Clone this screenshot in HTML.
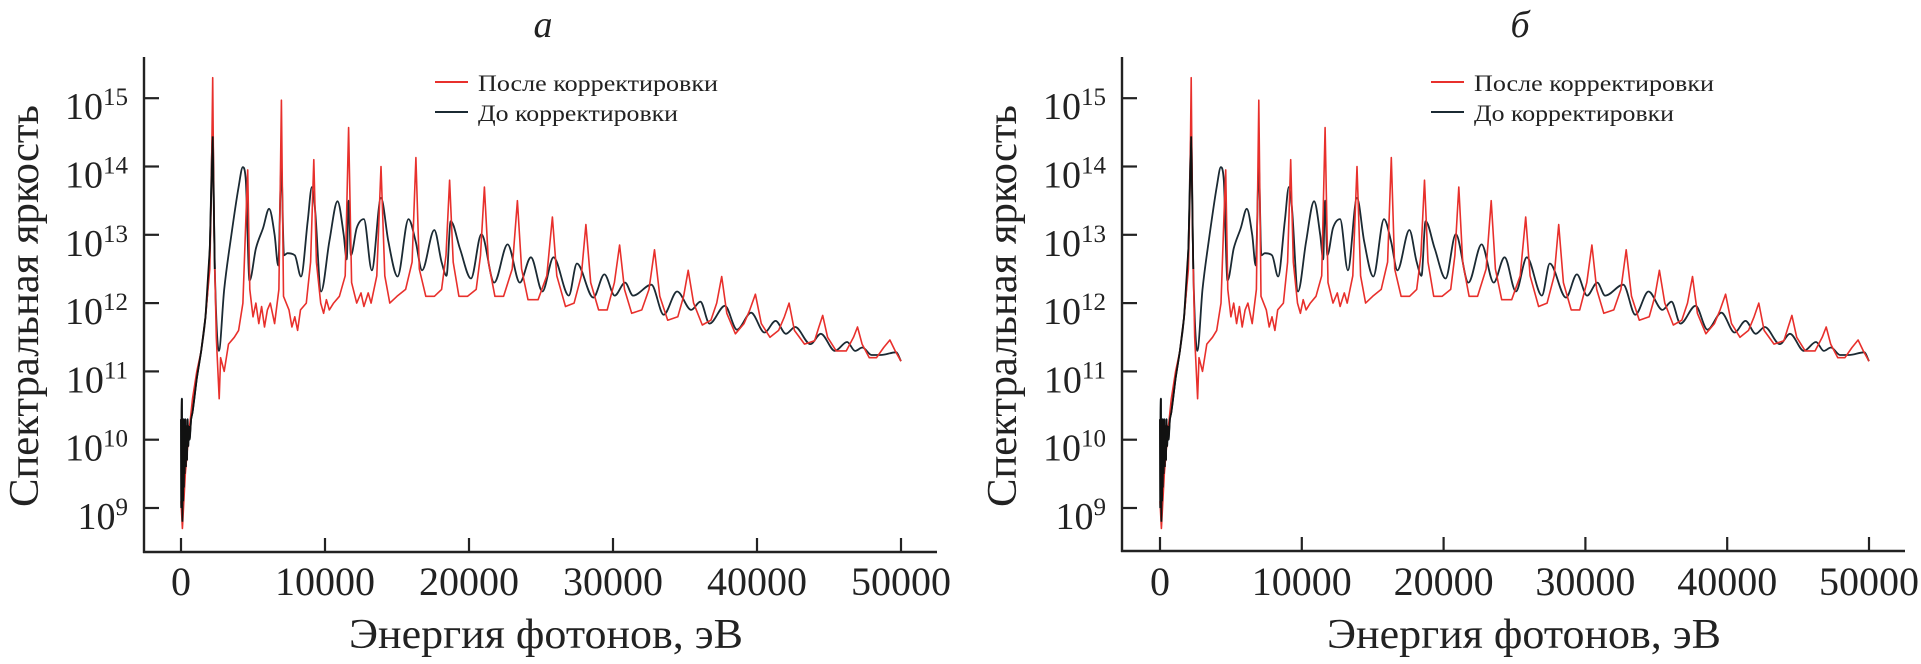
<!DOCTYPE html>
<html><head><meta charset="utf-8"><style>
html,body{margin:0;padding:0;background:#fff;}
svg{display:block;font-family:"Liberation Serif","DejaVu Serif",serif;}
</style></head><body>
<svg id="chart" width="1921" height="664" viewBox="0 0 1921 664" xmlns="http://www.w3.org/2000/svg"></svg>
<script>
// ---- data (log10 of spectral brightness vs photon energy, eV) ----
const redE = [0,100,300,500,800,1100,1400,1700,2000,2100,2200,2300,2450,2650,2750,3000,3300,3700,4000,4300,4500,4630,4780,5000,5200,5400,5600,5800,6000,6200,6500,6800,6970,7120,7500,7700,7900,8100,8300,8700,9000,9220,9400,9700,9900,10100,10300,10600,11000,11400,11640,11850,12200,12500,12700,13000,13200,13600,13890,14150,14500,15000,15600,16050,16310,16550,17000,17600,18100,18400,18650,18900,19300,19900,20500,20800,21070,21350,21800,22400,23000,23360,23650,24100,24800,25400,25790,26100,26700,27300,27800,28120,28450,29000,29600,30100,30460,30800,31300,32000,32500,32880,33250,33800,34500,34900,35220,35600,36200,36800,37200,37550,37900,38500,39100,39500,39890,40300,40900,41500,41900,42230,42600,43300,44000,44300,44560,44900,45500,46200,46700,46980,47300,47800,48300,48800,49230,49600,50000];
const redV = [9.1,8.7,9.5,10.0,10.6,11.0,11.3,11.8,12.5,13.5,15.3,13.0,11.5,10.6,11.2,11.0,11.4,11.5,11.6,12.0,13.2,13.95,12.2,11.8,12.0,11.7,11.95,11.65,11.9,12.0,11.7,12.2,14.97,12.1,11.9,11.65,11.8,11.6,11.9,12.0,12.6,14.1,12.6,12.0,11.85,12.05,11.9,12.0,12.1,12.4,14.57,12.3,12.0,12.15,11.95,12.15,12.0,12.4,14.0,12.4,12.0,12.1,12.2,12.6,14.13,12.5,12.1,12.1,12.2,12.7,13.8,12.6,12.1,12.1,12.2,12.7,13.7,12.6,12.1,12.1,12.5,13.5,12.5,12.05,12.05,12.4,13.26,12.4,11.95,12.0,12.4,13.15,12.3,11.9,11.9,12.3,12.85,12.2,11.85,11.9,12.2,12.78,12.1,11.75,11.8,12.1,12.48,12.0,11.68,11.75,12.0,12.39,11.85,11.55,11.7,11.9,12.13,11.7,11.5,11.6,11.8,12.0,11.6,11.4,11.45,11.65,11.82,11.5,11.3,11.3,11.5,11.65,11.4,11.2,11.2,11.35,11.46,11.3,11.15];
const blackE = [0,20,40,60,80,100,130,150,180,200,230,260,300,340,380,420,460,500,550,600,700,800,1100,1400,1700,2000,2200,2350,2630,3000,3500,4000,4290,4500,4760,5200,5700,6120,6500,6750,6970,7150,7390,7900,8330,8800,9090,9300,9730,10300,10870,11300,11510,11640,11800,12200,12700,13250,13890,14400,15040,15800,16300,16740,17590,18100,18440,18730,19370,20140,20860,21750,22680,23530,24300,25100,25870,26930,27490,28630,29400,30120,30840,31390,32670,33520,34450,35430,36070,36700,37770,38610,39590,40520,41290,42010,42650,43710,44430,45410,46260,46810,47320,47960,48600,49660,50000];
const blackV = [10.3,9.0,10.4,10.6,9.2,8.8,10.2,9.1,10.3,9.3,10.1,9.5,10.3,9.6,10.2,9.7,10.3,9.9,10.2,10.0,10.3,10.4,10.9,11.3,11.8,12.8,14.44,12.5,11.3,12.2,13.0,13.7,13.99,13.8,12.33,12.8,13.1,13.38,13.0,12.55,13.97,12.7,12.73,12.7,12.39,13.2,13.7,13.4,12.17,12.9,13.49,13.0,12.64,13.5,12.7,13.1,13.23,12.48,13.54,12.9,12.39,13.23,12.9,12.48,13.07,12.6,12.4,13.2,12.8,12.36,13.01,12.3,12.86,12.3,12.67,12.17,12.67,12.11,12.58,12.08,12.42,12.11,12.3,12.11,12.27,11.83,12.17,11.9,12.02,11.7,11.96,11.61,11.86,11.57,11.74,11.55,11.65,11.4,11.55,11.3,11.43,11.3,11.35,11.24,11.24,11.28,11.15];
const xTicks = [0,10000,20000,30000,40000,50000];
const yTicks = [9,10,11,12,13,14,15];

const NS = "http://www.w3.org/2000/svg";
const svg = document.getElementById('chart');
function mk(tag, attrs, parent){
  const e = document.createElementNS(NS, tag);
  for (const k in attrs) e.setAttribute(k, attrs[k]);
  (parent||svg).appendChild(e);
  return e;
}
// monotone cubic path
function smoothPath(px, py){
  const n = px.length;
  if (n < 3) return px.map((x,i)=>(i?'L':'M')+x+','+py[i]).join('');
  const d = [], m = [];
  for (let i=0;i<n-1;i++) d.push((py[i+1]-py[i])/((px[i+1]-px[i])||1e-6));
  m.push(d[0]);
  for (let i=1;i<n-1;i++) m.push(d[i-1]*d[i] <= 0 ? 0 : (d[i-1]+d[i])/2);
  m.push(d[n-2]);
  for (let i=0;i<n-1;i++){
    if (d[i]===0){m[i]=0;m[i+1]=0;continue;}
    const a=m[i]/d[i], b=m[i+1]/d[i], s=a*a+b*b;
    if (s>9){const t=3/Math.sqrt(s); m[i]=t*a*d[i]; m[i+1]=t*b*d[i];}
  }
  let s = 'M'+px[0].toFixed(1)+','+py[0].toFixed(1);
  for (let i=0;i<n-1;i++){
    const h=(px[i+1]-px[i])/3;
    s += 'C'+(px[i]+h).toFixed(1)+','+(py[i]+m[i]*h).toFixed(1)+' '+(px[i+1]-h).toFixed(1)+','+(py[i+1]-m[i+1]*h).toFixed(1)+' '+px[i+1].toFixed(1)+','+py[i+1].toFixed(1);
  }
  return s;
}

function panel(P){
  const g = mk('g', {});
  
  
  const xs = v => P.x0 + v * P.kx;
  const ys = v => P.y9 - (v - 9) * P.ky;

  const t = mk('text', {x: P.titleX, y: 37, 'font-size': 38, 'font-style': 'italic', 'text-anchor': 'middle', fill: '#222'}, g);
  t.textContent = P.title;
  
  

  const ya = mk('line', {x1: P.ax, y1: 57, x2: P.ax, y2: P.axY + 1, stroke: '#222', 'stroke-width': 2.4}, g);
  
  
  const xa = mk('line', {x1: P.ax - 1, y1: P.axY, x2: P.axEnd, y2: P.axY, stroke: '#222', 'stroke-width': 2.4}, g);
  
  

  yTicks.forEach(v => {
    const y = ys(v);
    const tk = mk('line', {x1: P.ax, y1: y, x2: P.ax + 15, y2: y, stroke: '#222', 'stroke-width': 2.2}, g);
    
    
    const lb = mk('text', {x: P.ax - 16, y: y + 21, 'font-size': 38, 'text-anchor': 'end', fill: '#222'}, g);
    
    
    lb.appendChild(document.createTextNode('10'));
    const sp = mk('tspan', {dy: -14, 'font-size': 25}, lb);
    sp.textContent = String(v);
  });
  xTicks.forEach(v => {
    const x = xs(v);
    const tk = mk('line', {x1: x, y1: P.axY, x2: x, y2: P.axY - 14, stroke: '#222', 'stroke-width': 2.2}, g);
    
    
    const lb = mk('text', {x: x, y: 595, 'font-size': 40, 'text-anchor': 'middle', fill: '#222'}, g);
    
    
    lb.textContent = String(v);
  });

  const xt = mk('text', {x: P.ax + 402, y: 648, 'font-size': 42, 'text-anchor': 'middle', fill: '#222', textLength: 394, lengthAdjust: 'spacingAndGlyphs'}, g);
  xt.textContent = 'Энергия фотонов, эВ';
  
  
  const yt = mk('text', {x: 0, y: 0, 'font-size': 42, 'text-anchor': 'middle', fill: '#222', textLength: 402, lengthAdjust: 'spacingAndGlyphs', transform: `translate(${P.ax - 106},306) rotate(-90)`}, g);
  yt.textContent = 'Спектральная яркость';
  
  

  const pathOf = (E, V) => E.map((e, i) => (i ? 'L' : 'M') + xs(e).toFixed(1) + ',' + ys(V[i]).toFixed(1)).join('');
  const pb = mk('path', {d: smoothPath(blackE.map(xs), blackV.map(ys)), fill: 'none', stroke: '#1b2a33', 'stroke-width': 1.8, 'stroke-linejoin': 'round'}, g);
  
  
  const pr = mk('path', {d: pathOf(redE, redV), fill: 'none', stroke: '#e8302c', 'stroke-width': 1.6, 'stroke-linejoin': 'round'}, g);
  
  
  const pb2 = mk('path', {d: pathOf(blackE.slice(0, 28), blackV.slice(0, 28)), fill: 'none', stroke: '#111', 'stroke-width': 1.8}, g);
  
  

  const lg = mk('g', {}, g);
  
  
  const l1 = mk('line', {x1: P.legX, y1: 82, x2: P.legX + 33, y2: 82, stroke: '#e8302c', 'stroke-width': 2}, lg);
  
  
  const t1 = mk('text', {x: P.legX + 43, y: 91, 'font-size': 23, fill: '#222', textLength: 240, lengthAdjust: 'spacingAndGlyphs'}, lg);
  t1.textContent = 'После корректировки';
  
  
  const l2 = mk('line', {x1: P.legX, y1: 112, x2: P.legX + 33, y2: 112, stroke: '#1b2a33', 'stroke-width': 2}, lg);
  
  
  const t2 = mk('text', {x: P.legX + 43, y: 121, 'font-size': 23, fill: '#222', textLength: 200, lengthAdjust: 'spacingAndGlyphs'}, lg);
  t2.textContent = 'До корректировки';
  
  
}

panel({id: 'a', title: 'а', titleX: 543, ax: 144, axY: 552, axEnd: 937, x0: 181, kx: 144/10000, y9: 508, ky: 68.3, legX: 435});
panel({id: 'b', title: 'б', titleX: 1520, ax: 1122, axY: 551, axEnd: 1905, x0: 1160, kx: 141.8/10000, y9: 508, ky: 68.3, legX: 1431});
</script>
</body></html>
